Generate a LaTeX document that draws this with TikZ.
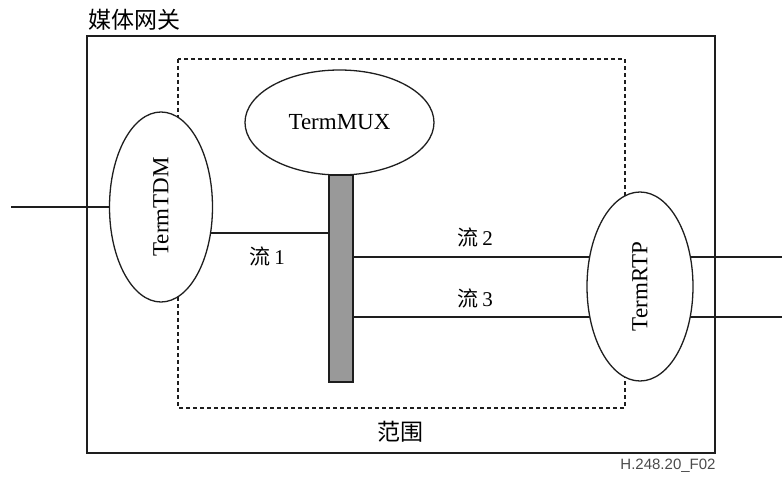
\documentclass[tikz,border=0pt]{standalone}
\usepackage{fontspec}
\setmainfont{Liberation Serif}
\newfontfamily\cjk{Noto Sans CJK SC}
\newfontfamily\arialf{Liberation Sans}
\usetikzlibrary{shapes.geometric,backgrounds}
\definecolor{bargray}{RGB}{153,153,153}
\definecolor{ink}{RGB}{30,30,30}
\begin{document}
\begin{tikzpicture}[x=1pt,y=-1pt,
  term/.style={ellipse,draw=ink,fill=white,line width=1.3pt,inner sep=0pt,font=\fontsize{23}{23}\selectfont},
  link/.style={draw=ink,line width=1.3pt},
  box/.style={draw=ink,line width=1.6pt},
  scopebox/.style={draw=ink,line width=1.1pt,dash pattern=on 4pt off 3pt},
  lbl/.style={font=\fontsize{21}{21}\selectfont\cjk,inner sep=0pt}]
\useasboundingbox (0,0) rectangle (782,481);
\node[term,minimum width=189pt,minimum height=105pt] (mux) at (339.5,122.5) {TermMUX};
\node[term,rotate=90,minimum width=190pt,minimum height=103pt] (tdm) at (161,207) {TermTDM};
\node[term,rotate=90,minimum width=189pt,minimum height=106pt] (rtp) at (640,286.5) {TermRTP};
\node[draw=ink,fill=bargray,line width=1.2pt,inner sep=0pt,minimum width=24pt,minimum height=207pt] (bar) at (341,278.5) {};
\coordinate (inL) at (11,207);
\coordinate (outR2) at (782,257);
\coordinate (outR3) at (782,317);
\coordinate (f1) at (0,233);
\coordinate (f2) at (0,257);
\coordinate (f3) at (0,317);
\begin{pgfonlayer}{background}
  \draw[box] (87,36) rectangle (715,453);
  \draw[scopebox] (178,59) rectangle (625,408);
  \draw[link] (inL) -- (tdm.center);
  \draw[link] (tdm.center |- f1) -- (bar.west |- f1);
  \draw[link] (bar.east |- f2) -- (rtp.center |- f2);
  \draw[link] (bar.east |- f3) -- (rtp.center |- f3);
  \draw[link] (rtp.center |- f2) -- (outR2);
  \draw[link] (rtp.center |- f3) -- (outR3);
\end{pgfonlayer}
\node[lbl,font=\fontsize{23}{23}\selectfont\cjk,anchor=west] (gw) at (88,20) {媒体网关};
\node[lbl] (l1) at (267,256) {流\hspace{4pt}\fontspec{Liberation Serif}1};
\node[lbl] (l2) at (475,237) {流\hspace{4pt}\fontspec{Liberation Serif}2};
\node[lbl] (l3) at (475,298) {流\hspace{4pt}\fontspec{Liberation Serif}3};
\node[lbl,font=\fontsize{23}{23}\selectfont\cjk] (sc) at (400,432) {范围};
\node[inner sep=0pt,font=\fontsize{15}{15}\selectfont\arialf,text=ink!80] (fig) at (668,466) {H.248.20\_F02};
\end{tikzpicture}
\end{document}
